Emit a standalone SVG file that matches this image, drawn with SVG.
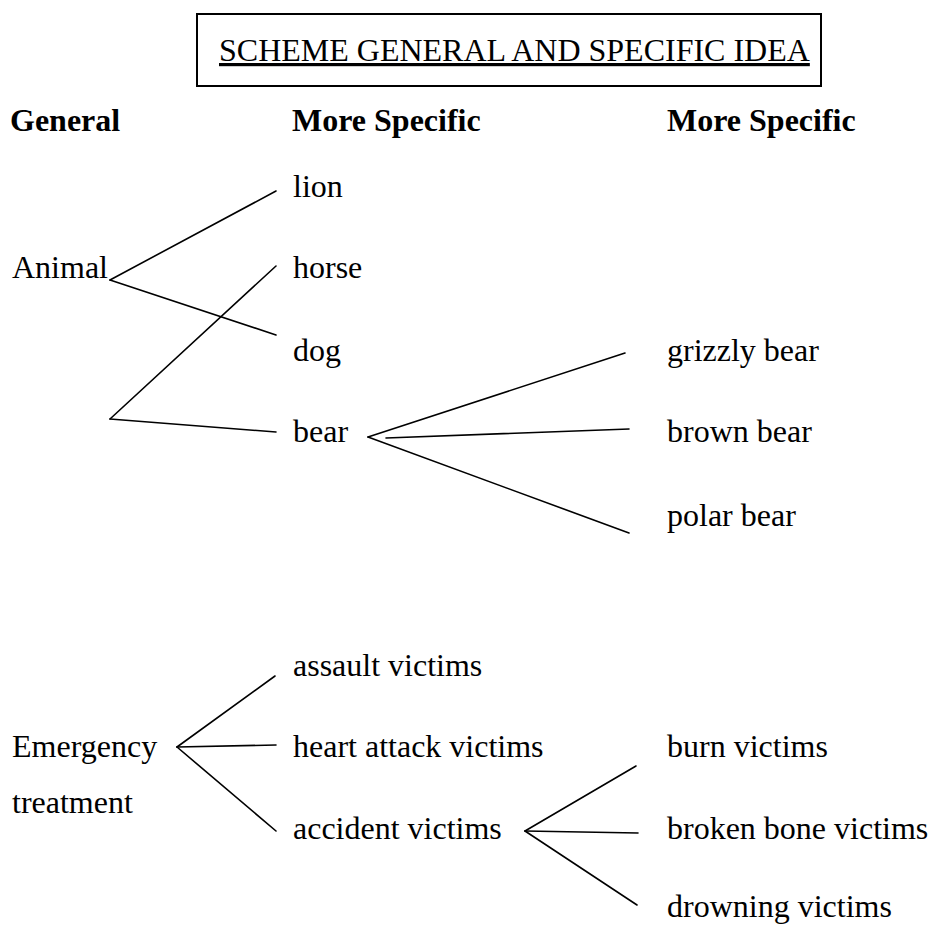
<svg xmlns="http://www.w3.org/2000/svg" width="931" height="929" viewBox="0 0 931 929">
<style>
text{font-family:"Liberation Serif","Times New Roman",serif;font-size:32px;fill:#000}
.b{font-weight:bold}
.c line{stroke:#000;stroke-width:1.6;stroke-linecap:round}
</style>
<rect width="931" height="929" fill="#fff"/>
<g id="title">
<rect x="197" y="14" width="624" height="72" fill="none" stroke="#000" stroke-width="2"/>
<text x="219" y="61" text-decoration="underline">SCHEME GENERAL AND SPECIFIC IDEA</text>
</g>
<g id="headers">
<text class="b" x="10" y="131">General</text>
<text class="b" x="292" y="131">More Specific</text>
<text class="b" x="667" y="131">More Specific</text>
</g>
<g id="animal"><text x="12" y="278">Animal</text></g>
<g id="lion"><text x="293" y="197">lion</text></g>
<g id="horse"><text x="293" y="278">horse</text></g>
<g id="dog"><text x="293" y="361">dog</text></g>
<g id="bear"><text x="293" y="442">bear</text></g>
<g id="grizzly"><text x="667" y="361">grizzly bear</text></g>
<g id="brown"><text x="667" y="442">brown bear</text></g>
<g id="polar"><text x="667" y="526">polar bear</text></g>
<g id="emergency"><text x="12" y="757">Emergency</text><text x="12" y="813">treatment</text></g>
<g id="assault"><text x="293" y="676">assault victims</text></g>
<g id="heart"><text x="293" y="757">heart attack victims</text></g>
<g id="accident"><text x="293" y="839">accident victims</text></g>
<g id="burn"><text x="667" y="757">burn victims</text></g>
<g id="broken"><text x="667" y="839">broken bone victims</text></g>
<g id="drowning"><text x="667" y="917">drowning victims</text></g>
<g id="connectors" class="c">
<line x1="110" y1="280" x2="276" y2="191"/>
<line x1="110" y1="280" x2="276" y2="335"/>
<line x1="110" y1="419" x2="276" y2="266"/>
<line x1="110" y1="419" x2="276" y2="432"/>
<line x1="368" y1="437" x2="625" y2="353"/>
<line x1="386" y1="438" x2="629" y2="429"/>
<line x1="368" y1="437" x2="629" y2="533"/>
<line x1="177" y1="747" x2="275" y2="676"/>
<line x1="177" y1="747" x2="276" y2="745"/>
<line x1="177" y1="747" x2="276" y2="831"/>
<line x1="525" y1="831" x2="636" y2="766"/>
<line x1="525" y1="831" x2="638" y2="833"/>
<line x1="525" y1="831" x2="637" y2="905"/>
</g>
</svg>
